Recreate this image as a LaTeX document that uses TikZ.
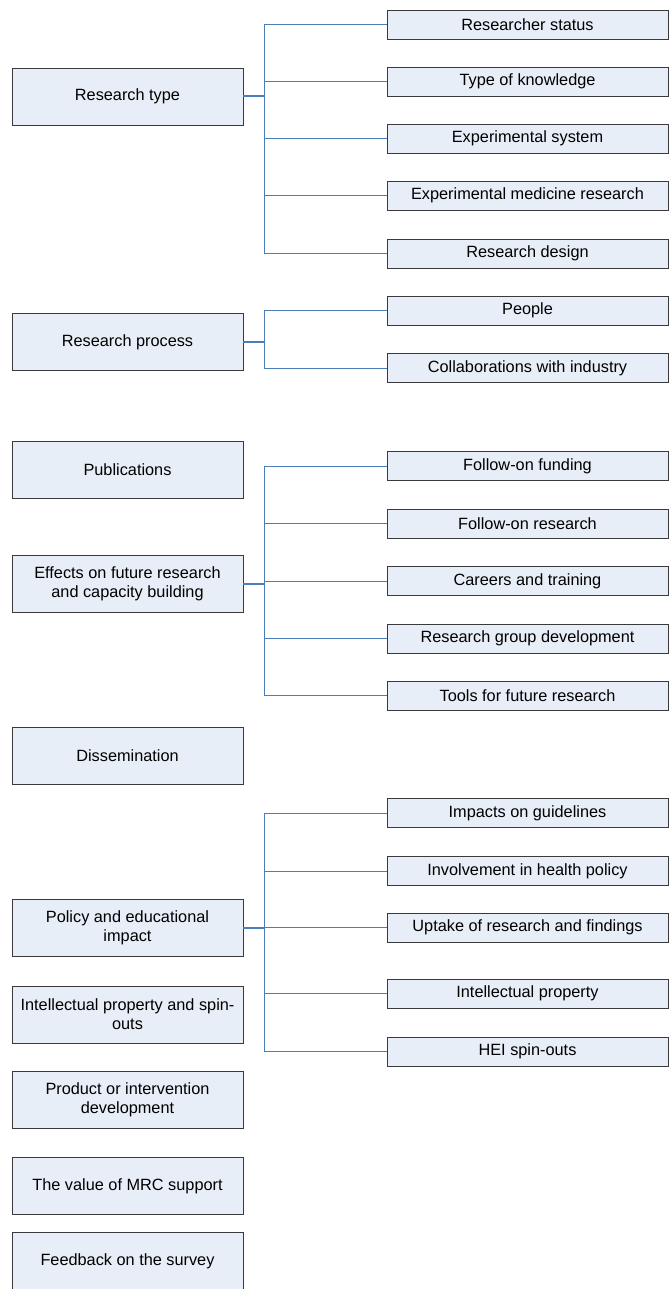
\documentclass[tikz,border=0pt]{standalone}
\usepackage{fontspec}
\setmainfont{Liberation Sans}
\definecolor{boxfill}{HTML}{E8EEF7}
\definecolor{boxline}{HTML}{3A3A3A}
\definecolor{linkblue}{HTML}{4A7EBB}
\begin{document}
\begin{tikzpicture}[x=1pt,y=-1pt,
  base/.style={draw=boxline,fill=boxfill,line width=0.9pt,inner sep=2pt,
    align=center,font=\fontsize{16.3}{19}\selectfont},
  lbox/.style={base,minimum width=231,minimum height=57},
  rbox/.style={base,minimum width=281,minimum height=29},
  conn/.style={draw=linkblue,line width=0.9pt},
  stub/.style={draw=linkblue,line width=2pt}]
\useasboundingbox (0,0) rectangle (669,1289);

% main topics (left column)
\node[lbox] (rt) at (127.5,96.5)  {Research type};
\node[lbox] (rp) at (127.5,342)   {Research process};
\node[lbox] (pu) at (127.5,469.5) {Publications};
\node[lbox] (ef) at (127.5,583.5) {Effects on future research\\and capacity building};
\node[lbox] (di) at (127.5,756)   {Dissemination};
\node[lbox] (po) at (127.5,928)   {Policy and educational\\impact};
\node[lbox] (is) at (127.5,1014.5){Intellectual property and spin-\\outs};
\node[lbox] (pd) at (127.5,1099.5){Product or intervention\\development};
\node[lbox] (mv) at (127.5,1186)  {The value of MRC support};
\node[lbox] (fb) at (127.5,1261)  {Feedback on the survey};

% sub-topics (right column)
\node[rbox] (rs)  at (527.5,24.5)  {Researcher status};
\node[rbox] (tk)  at (527.5,81.5)  {Type of knowledge};
\node[rbox] (es)  at (527.5,138.5) {Experimental system};
\node[rbox] (emr) at (527.5,195.5) {Experimental medicine research};
\node[rbox] (rd)  at (527.5,253.5) {Research design};
\node[rbox] (pe)  at (527.5,310.5) {People};
\node[rbox] (cw)  at (527.5,368)   {Collaborations with industry};
\node[rbox] (ff)  at (527.5,466)   {Follow-on funding};
\node[rbox] (fr)  at (527.5,523.5) {Follow-on research};
\node[rbox] (ct)  at (527.5,581)   {Careers and training};
\node[rbox] (rg)  at (527.5,638.5) {Research group development};
\node[rbox] (tf)  at (527.5,695.5) {Tools for future research};
\node[rbox] (ig)  at (527.5,813)   {Impacts on guidelines};
\node[rbox] (ih)  at (527.5,871)   {Involvement in health policy};
\node[rbox] (ur)  at (527.5,927.5) {Uptake of research and findings};
\node[rbox] (ip)  at (527.5,993.5) {Intellectual property};
\node[rbox] (hs)  at (527.5,1051.5){HEI spin-outs};

% elbow connectors: parent -> shared trunk -> child
\foreach \p/\kids in {rt/{rs,tk,es,emr,rd}, rp/{pe,cw},
                      ef/{ff,fr,ct,rg,tf}, po/{ig,ih,ur,ip,hs}}{
  \foreach \k in \kids {
    \draw[conn] (\p.east) -- ++(21,0) |- (\k.west);
  }
  \draw[stub] (\p.east) -- ++(21,0);
}
\end{tikzpicture}
\end{document}
